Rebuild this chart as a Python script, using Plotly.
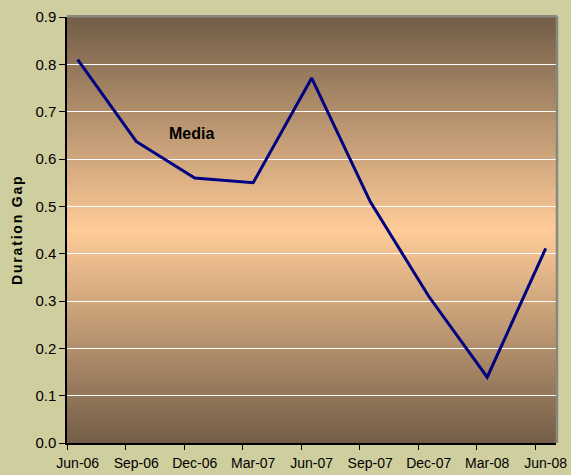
import plotly.graph_objects as go

categories = ["Jun-06", "Sep-06", "Dec-06", "Mar-07", "Jun-07", "Sep-07", "Dec-07", "Mar-08", "Jun-08"]
media = [0.81, 0.637, 0.56, 0.55, 0.771, 0.51, 0.31, 0.139, 0.411]
y_ticks = [0.0, 0.1, 0.2, 0.3, 0.4, 0.5, 0.6, 0.7, 0.8, 0.9]

FONT = "Liberation Sans, Arial, sans-serif"
x_idx = list(range(len(categories)))

fig = go.Figure()
fig.add_trace(go.Scatter(x=x_idx, y=media, mode="lines",
                         line=dict(color="#000080", width=3), name="Media",
                         showlegend=False, hoverinfo="skip"))

# vertical "from centre" gradient background
edge = (115, 94, 72)
center = (255, 204, 153)
N = 200
shapes = []
for k in range(N):
    y0 = 0.9 * k / N
    y1 = 0.9 * (k + 1) / N
    mid = (y0 + y1) / 2
    t = 1 - abs(mid - 0.45) / 0.45
    col = "rgb(%d,%d,%d)" % tuple(round(edge[i] + (center[i] - edge[i]) * t) for i in range(3))
    shapes.append(dict(type="rect", xref="paper", yref="y", x0=0, x1=1, y0=y0, y1=y1,
                       fillcolor=col, line=dict(width=1, color=col), layer="below"))
# grey border on top and right
shapes.append(dict(type="line", xref="paper", yref="paper", x0=0, x1=1.002, y0=1.002, y1=1.002,
                   line=dict(color="#888880", width=2.5)))
shapes.append(dict(type="line", xref="paper", yref="paper", x0=1.002, x1=1.002, y0=0, y1=1.002,
                   line=dict(color="#888880", width=2.5)))

fig.update_layout(
    width=571, height=475,
    margin=dict(l=67, r=15, t=17, b=32),
    paper_bgcolor="#CFCE9E",
    plot_bgcolor="rgb(115,94,72)",
    shapes=shapes,
    font=dict(family=FONT, color="#000000"),
    xaxis=dict(range=[-0.183, 8.176], tickmode="array", tickvals=x_idx, ticktext=categories,
               ticks="", showgrid=False, zeroline=False, showline=True, linecolor="#000000",
               linewidth=1.5, tickfont=dict(size=14, family=FONT), ticklabelstandoff=6,
               automargin=False,
               minor=dict(tick0=-0.175, dtick=1, ticks="outside", ticklen=5, tickcolor="#000000",
                          showgrid=False)),
    yaxis=dict(range=[0, 0.9], tickmode="array", tickvals=y_ticks,
               ticktext=["%.1f" % v for v in y_ticks], ticks="outside", ticklen=6,
               tickcolor="#000000", showgrid=True, gridcolor="#FFFFFF", gridwidth=1.2,
               zeroline=False, showline=True, linecolor="#000000", linewidth=1.5,
               automargin=False, tickfont=dict(size=15, family=FONT)),
    annotations=[
        dict(text="<b>Media</b>", x=1.95, y=0.653, xref="x", yref="y", showarrow=False,
             xanchor="center", yanchor="middle", font=dict(size=16, family=FONT)),
        dict(text="<b>Duration Gap</b>", x=-0.102, y=0.5, xref="paper", yref="paper",
             showarrow=False, textangle=-90, xanchor="center", yanchor="middle",
             font=dict(size=14, family=FONT)),
    ],
)

post = """
document.body.style.margin = '0';
document.body.style.padding = '0';
document.body.style.overflow = 'hidden';
document.querySelectorAll('.annotation-text').forEach(function(el){
  if (el.textContent.indexOf('Duration') >= 0) { el.style.letterSpacing = '1.8px'; }
});
"""
fig.write_html("out.html", post_script=post, config={"displayModeBar": False})
